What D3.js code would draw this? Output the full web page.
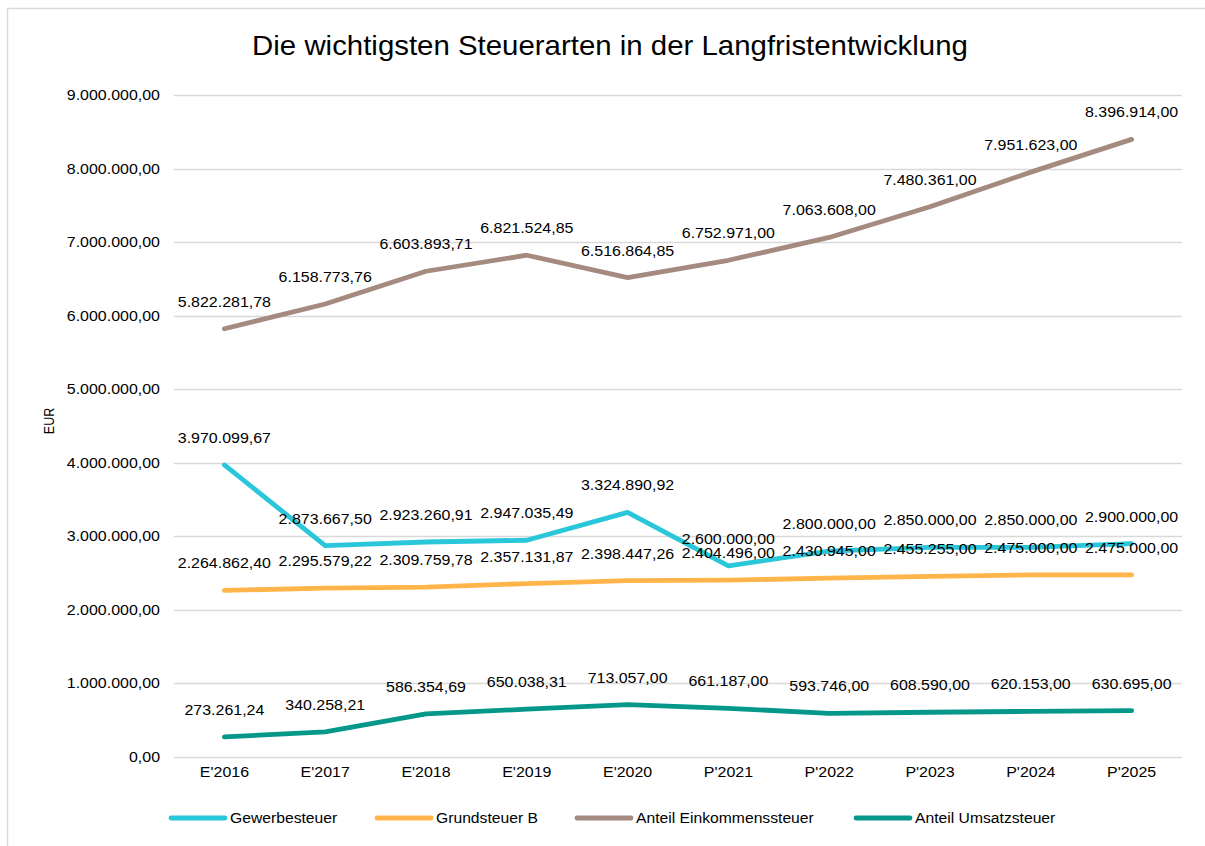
<!DOCTYPE html>
<html><head><meta charset="utf-8">
<script src="https://cdn.jsdelivr.net/npm/d3@7"></script>
<style>body{margin:0;background:#fff;} svg{display:block;font-family:"Liberation Sans",Arial,sans-serif;}</style>
</head><body>
<svg id="c" width="1205" height="846"></svg>
<script>
const categories = ["E'2016","E'2017","E'2018","E'2019","E'2020","P'2021","P'2022","P'2023","P'2024","P'2025"];
const gewerbesteuer = [3970099.67,2873667.50,2923260.91,2947035.49,3324890.92,2600000,2800000,2850000,2850000,2900000];
const grundsteuerB = [2264862.40,2295579.22,2309759.78,2357131.87,2398447.26,2404496,2430945,2455255,2475000,2475000];
const einkommensteuer = [5822281.78,6158773.76,6603893.71,6821524.85,6516864.85,6752971,7063608,7480361,7951623,8396914];
const umsatzsteuer = [273261.24,340258.21,586354.69,650038.31,713057,661187,593746,608590,620153,630695];
const yTicks = [0,1000000,2000000,3000000,4000000,5000000,6000000,7000000,8000000,9000000];
const seriesColors = ["#2AC6DA","#FFB54A","#A48A7F","#04978A"];
const title = "Die wichtigsten Steuerarten in der Langfristentwicklung";
const yTitle = "EUR";
const legendNames = ["Gewerbesteuer","Grundsteuer B","Anteil Einkommenssteuer","Anteil Umsatzsteuer"];
const series = [gewerbesteuer, grundsteuerB, einkommensteuer, umsatzsteuer];

const loc = d3.formatLocale({decimal:",",thousands:".",grouping:[3],currency:["","€"]});
const fmt = loc.format(",.2f");

const svg = d3.select("#c");
svg.append("rect").attr("x",7.5).attr("y",8.5).attr("width",1210).attr("height",850)
  .attr("fill","#fff").attr("stroke","#D9D9D9").attr("stroke-width",1.5);

const L=174, R=1182, T=95, B=757;
const x = d3.scaleBand().domain(categories).range([L,R]);
const y = d3.scaleLinear().domain([0,9000000]).range([B,T]);

function stretch(sel, f){
  sel.each(function(){
    const w = this.getComputedTextLength();
    d3.select(this).attr("textLength", (w*f).toFixed(2)).attr("lengthAdjust","spacingAndGlyphs");
  });
}
const SX = 1.14;

const tt = svg.append("text").attr("x",610).attr("y",55).attr("text-anchor","middle")
  .attr("font-size",28).attr("fill","#000").text(title);
stretch(tt, 1.05);

svg.append("g").selectAll("line").data(yTicks).join("line")
  .attr("x1",L).attr("x2",R).attr("y1",d=>Math.round(y(d))+0.5).attr("y2",d=>Math.round(y(d))+0.5)
  .attr("stroke","#D9D9D9").attr("stroke-width",1.3);

const ya = svg.append("g").attr("transform",`translate(${L},0)`)
  .call(d3.axisLeft(y).tickValues(yTicks).tickFormat(fmt).tickSize(0).tickPadding(14));
ya.select(".domain").remove();
ya.attr("font-size",14).attr("font-family",null);
ya.selectAll("text").attr("fill","#000");
stretch(ya.selectAll("text"), SX);

const xa = svg.append("g").attr("transform",`translate(0,${B})`)
  .call(d3.axisBottom(x).tickSize(0).tickPadding(10));
xa.select(".domain").remove();
xa.attr("font-size",14).attr("font-family",null);
xa.selectAll("text").attr("fill","#000");
stretch(xa.selectAll("text"), SX);

svg.append("text").attr("transform","translate(53.5,421) scale(1.14,1) rotate(-90)").attr("text-anchor","middle")
  .attr("font-size",12.5).attr("fill","#000").text(yTitle);

const line = d3.line().x((d,i)=>x(categories[i])+x.bandwidth()/2).y(d=>y(d));
series.forEach((s,k)=>{
  svg.append("path").attr("d",line(s)).attr("fill","none").attr("stroke",seriesColors[k])
    .attr("stroke-width",4.8).attr("stroke-linecap","round").attr("stroke-linejoin","round");
});
series.forEach((s,k)=>{
  const t = svg.append("g").selectAll("text").data(s).join("text")
    .attr("x",(d,i)=>x(categories[i])+x.bandwidth()/2)
    .attr("y",d=>y(d)-22)
    .attr("text-anchor","middle").attr("font-size",14).attr("fill","#000")
    .text(d=>fmt(d));
  stretch(t, SX);
});

const legX = [171,377,577,856];
const lg = svg.append("g");
legendNames.forEach((n,k)=>{
  lg.append("line").attr("x1",legX[k]).attr("x2",legX[k]+54).attr("y1",818).attr("y2",818)
    .attr("stroke",seriesColors[k]).attr("stroke-width",4.8).attr("stroke-linecap","round");
  const t = lg.append("text").attr("x",legX[k]+59).attr("y",823).attr("font-size",14).attr("fill","#000").text(n);
  stretch(t, 1.12);
});
</script>
</body></html>
